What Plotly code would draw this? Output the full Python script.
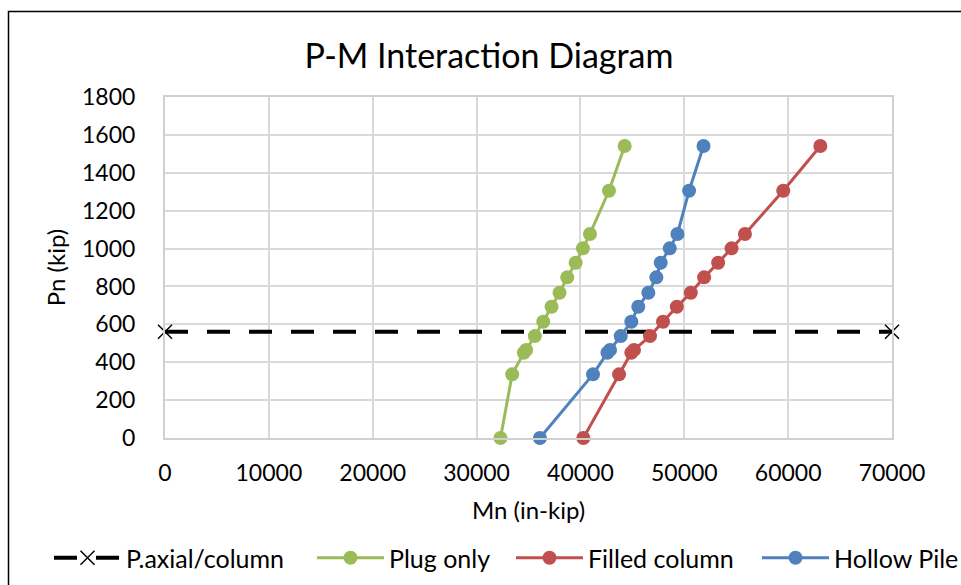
import plotly.graph_objects as go

# ---- data ----
pn = [0, 336, 450, 465, 538, 614, 693, 767, 848, 925, 1001, 1077, 1305, 1541]
mn_plug = [32300, 33430, 34550, 34780, 35610, 36420, 37220, 37990, 38730, 39540, 40240, 40920, 42750, 44260]
mn_filled = [40280, 43720, 44900, 45160, 46700, 47950, 49280, 50630, 51910, 53260, 54550, 55840, 59530, 63100]
mn_hollow = [36100, 41210, 42600, 42850, 43880, 44900, 45570, 46540, 47310, 47730, 48600, 49340, 50460, 51850]
axial_x = [0, 70000]
axial_y = [561, 561]

x_ticks = [0, 10000, 20000, 30000, 40000, 50000, 60000, 70000]
y_ticks = [0, 200, 400, 600, 800, 1000, 1200, 1400, 1600, 1800]

FONT = "Lato"
green = "#9BBB59"
red = "#C0504D"
blue = "#4F81BD"

fig = go.Figure()
fig.add_trace(go.Scatter(
    x=axial_x, y=axial_y, name="P.axial/column", mode="lines+markers", legend="legend",
    line=dict(color="black", width=4, dash="23px,19px"),
    marker=dict(symbol="x-thin-open", size=14, color="black", line=dict(color="black", width=1.5)),
    cliponaxis=False))
for nm, xs, col, lg in [("Plug only", mn_plug, green, "legend2"),
                        ("Filled column", mn_filled, red, "legend3"),
                        ("Hollow Pile", mn_hollow, blue, "legend4")]:
    fig.add_trace(go.Scatter(
        x=xs, y=pn, name=nm, mode="lines+markers", legend=lg,
        line=dict(color=col, width=3),
        marker=dict(symbol="circle", size=14, color=col),
        cliponaxis=False))

def leg(px):
    return dict(orientation="h", x=(px - 165) / 727, xanchor="left",
                y=(438 - 558) / 341, yanchor="middle",
                font=dict(family=FONT, size=25, color="black"),
                itemwidth=67, bgcolor="rgba(0,0,0,0)", borderwidth=0)

fig.update_layout(
    width=961, height=585,
    margin=dict(l=165, r=69, t=97, b=147, autoexpand=False),
    paper_bgcolor="white", plot_bgcolor="white",
    font=dict(family=FONT, size=23, color="black"),
    title=dict(text="P-M Interaction Diagram", x=489 / 961, xanchor="center", xref="container",
               y=1 - 56 / 585, yanchor="middle", yref="container",
               font=dict(family=FONT, size=34, color="black")),
    showlegend=True,
    legend=leg(49), legend2=leg(312), legend3=leg(511), legend4=leg(757),
    shapes=[dict(type="rect", xref="paper", yref="paper",
                 x0=(8.5 - 165) / 727, x1=1.3, y0=-0.6, y1=(438 - 11.5) / 341,
                 line=dict(color="black", width=1.5), fillcolor="rgba(0,0,0,0)", layer="below")],
)
fig.update_xaxes(
    range=[0, 70000], tickvals=x_ticks, ticktext=[str(v) for v in x_ticks],
    showgrid=True, gridcolor="#d9d9d9", gridwidth=1.5,
    showline=True, linecolor="#d0d0d0", linewidth=2, mirror=True,
    zeroline=False, ticks="", ticklabelstandoff=13,
    title=dict(text="Mn (in-kip)", standoff=18, font=dict(family=FONT, size=24)),
)
fig.update_yaxes(
    range=[0, 1800], tickvals=y_ticks, ticktext=[str(v) for v in y_ticks],
    showgrid=True, gridcolor="#d9d9d9", gridwidth=1.5,
    showline=True, linecolor="#d0d0d0", linewidth=2, mirror=True,
    zeroline=False, ticks="", ticklabelstandoff=23,
    title=dict(text="Pn (kip)", standoff=10, font=dict(family=FONT, size=24)),
)

fig.write_html("out.html")
